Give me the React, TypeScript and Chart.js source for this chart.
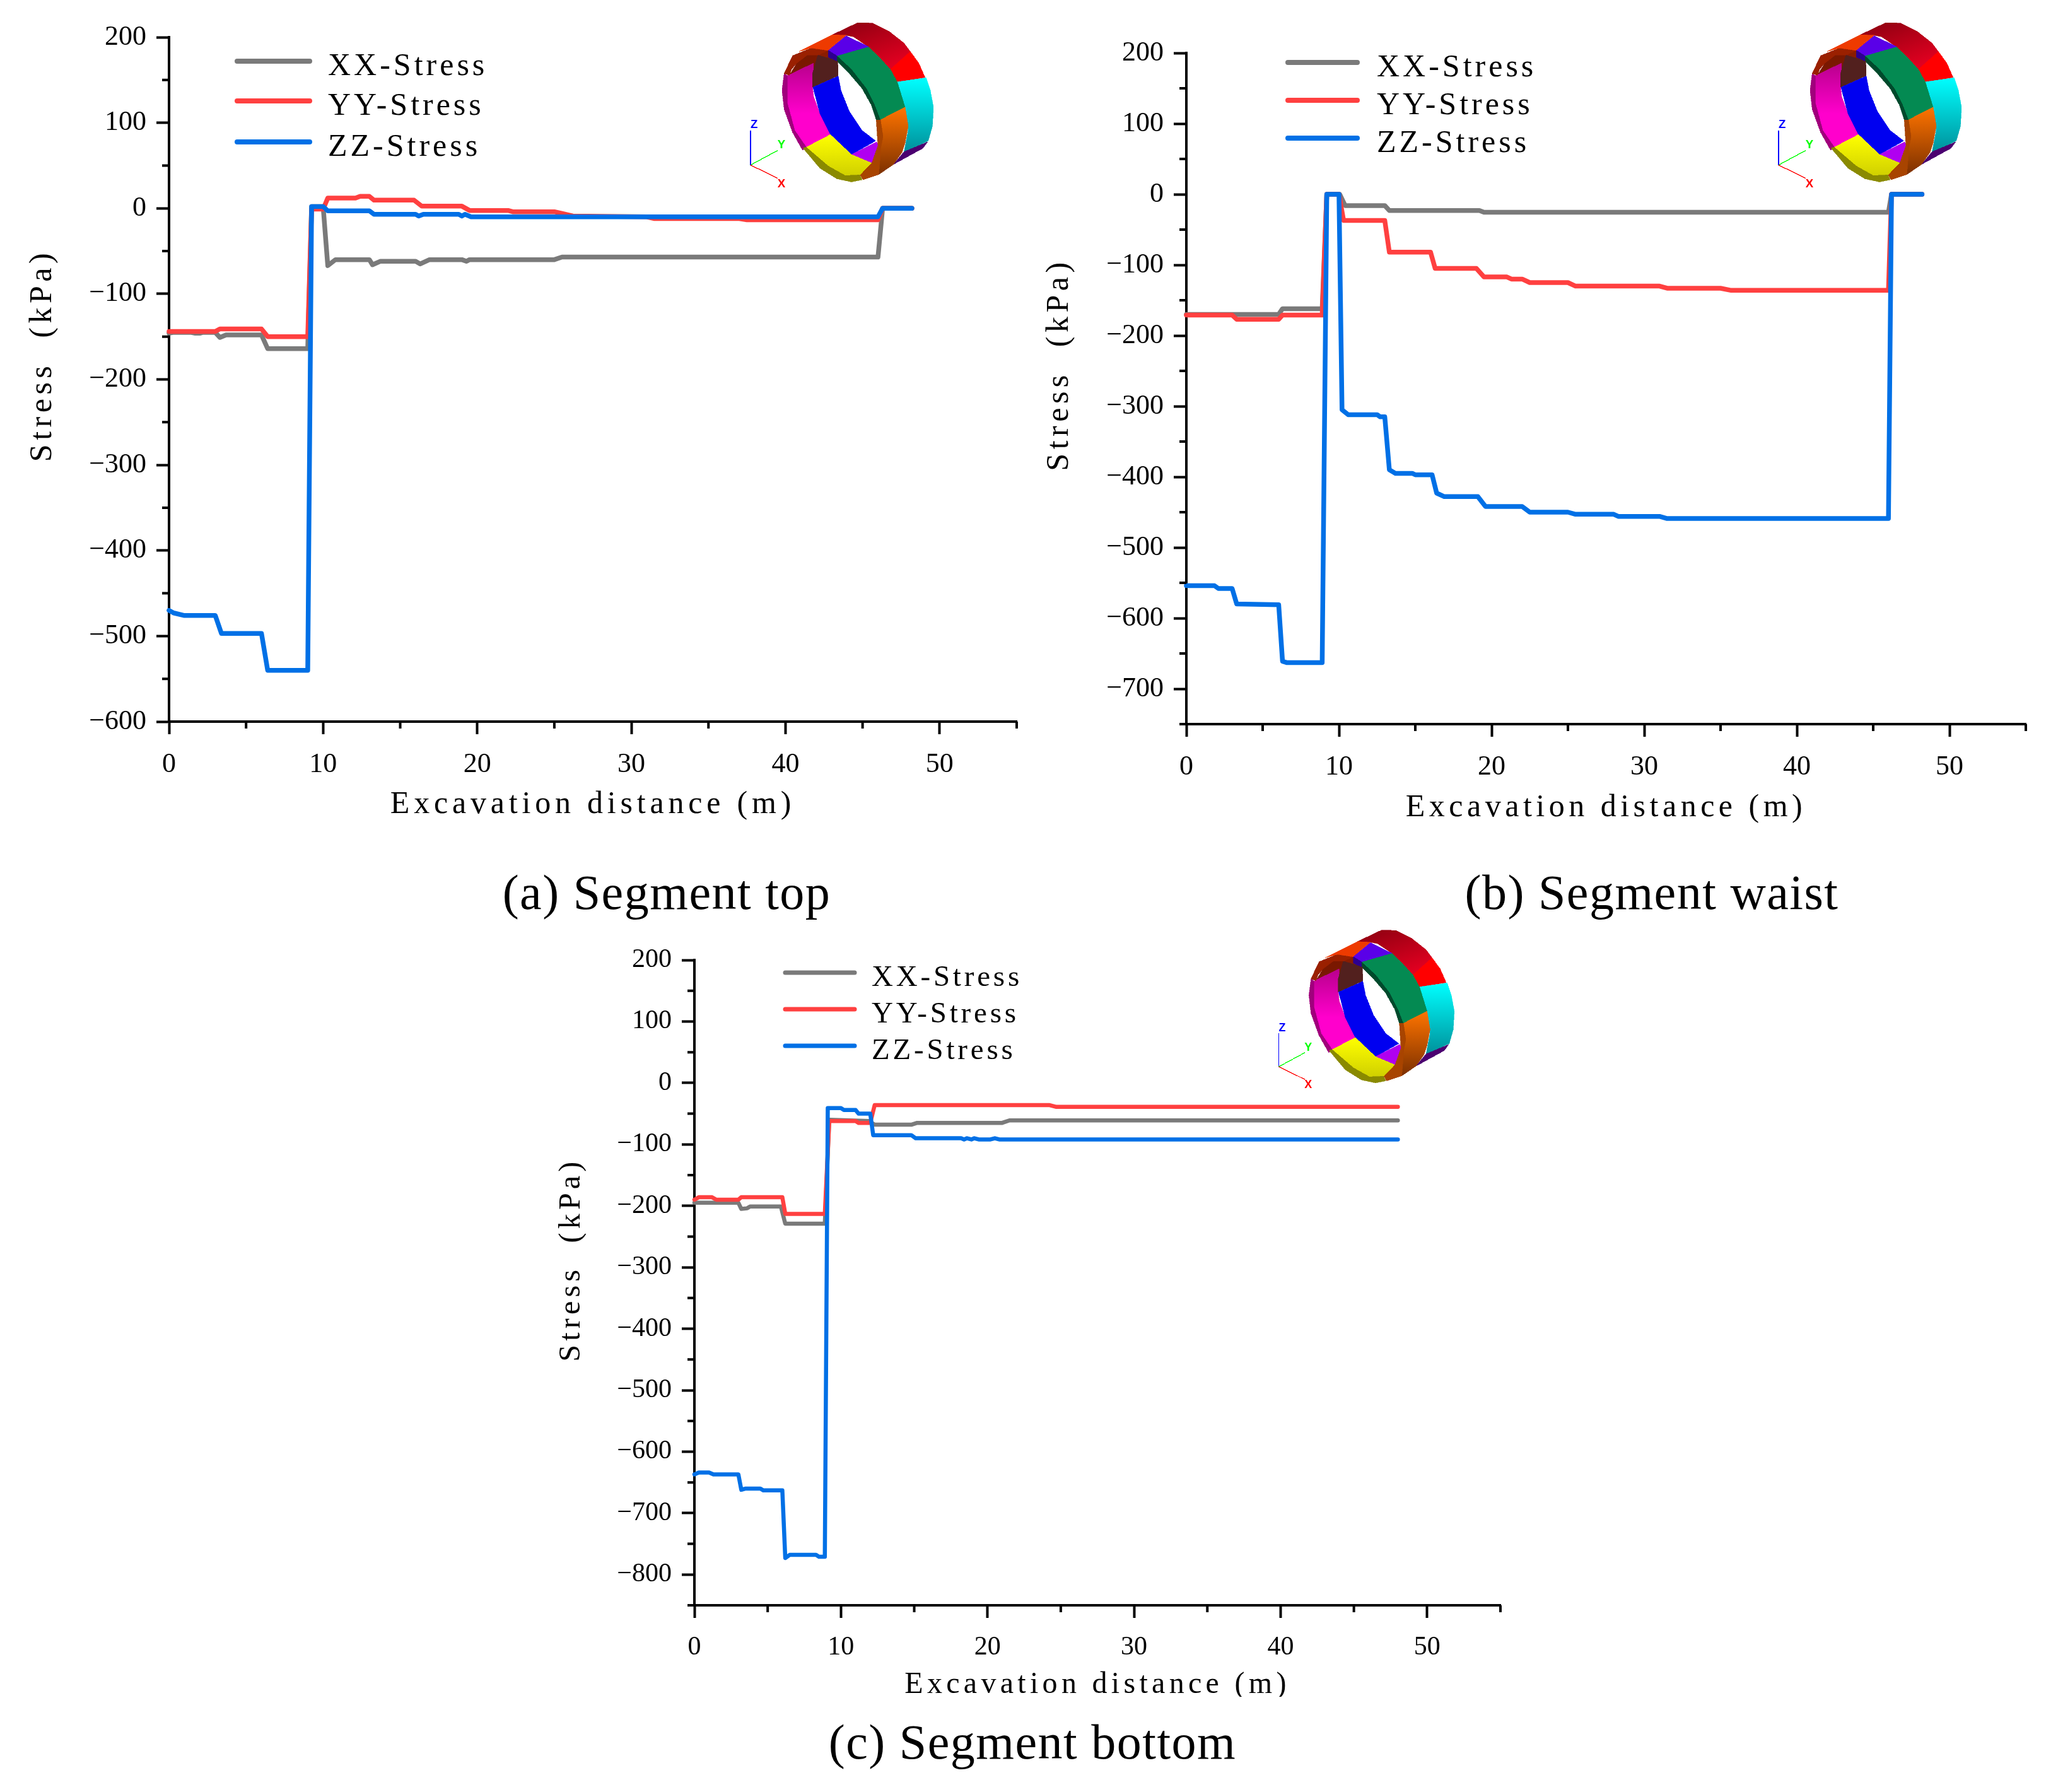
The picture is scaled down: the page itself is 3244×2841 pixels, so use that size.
import React, { useEffect, useRef } from "react";
import { Chart, registerables } from "chart.js";

Chart.register(...registerables);

// ---------- data ----------
const seriesNames = ["XX-Stress", "YY-Stress", "ZZ-Stress"];
const seriesColors = ["#7a7a7a", "#ff4040", "#0070e6"];

const xMajorTicks = [0, 10, 20, 30, 40, 50];
const xMinorTicks = [5, 15, 25, 35, 45, 55];

const topYMajor = [200, 100, 0, -100, -200, -300, -400, -500, -600];
const topYMinor = [150, 50, -50, -150, -250, -350, -450, -550];
const waistYMajor = [200, 100, 0, -100, -200, -300, -400, -500, -600, -700];
const waistYMinor = [150, 50, -50, -150, -250, -350, -450, -550, -650, -750];
const bottomYMajor = [200, 100, 0, -100, -200, -300, -400, -500, -600, -700, -800];
const bottomYMinor = [150, 50, -50, -150, -250, -350, -450, -550, -650, -750, -850];

// (a) Segment top
const topXXx = [0, 0.3, 1.4, 1.7, 2.0, 2.2, 2.5, 3.0, 3.3, 3.7, 6.0, 6.4, 9.0, 9.25, 10.0, 10.3, 10.8, 13.0, 13.2, 13.7, 16.0, 16.3, 16.9, 19.0, 19.3, 19.5, 25.0, 25.5, 46.0, 46.3, 48.2];
const topXXy = [-146, -145, -145, -146, -146, -145, -145, -145, -151, -148, -148, -164, -164, 2, 2, -67, -60, -60, -66, -62, -62, -65, -60, -60, -62, -60, -60, -57, -57, 0, 0];
const topYYx = [0, 0.3, 3.0, 3.3, 6.0, 6.4, 9.0, 9.25, 10.0, 10.3, 12.1, 12.4, 13.0, 13.3, 15.9, 16.4, 19.0, 19.5, 22.0, 22.3, 25.0, 25.5, 26.2, 31.0, 31.5, 37.0, 37.5, 46.0, 46.3, 48.2];
const topYYy = [-144, -144, -144, -141, -141, -150, -150, -1, -1, 12, 12, 14, 14, 9.5, 9.5, 2.5, 2.5, -2.5, -2.5, -4, -4, -6, -9, -10, -12, -12, -13.5, -13.5, 0, 0];
const topZZx = [0, 0.3, 1.0, 3.0, 3.4, 6.0, 6.4, 9.0, 9.25, 10.0, 10.3, 13.0, 13.3, 16.0, 16.2, 16.5, 18.8, 19.0, 19.2, 19.6, 46.0, 46.3, 48.2];
const topZZy = [-470, -473, -476, -476, -497, -497, -540, -540, 2, 2, -3, -3, -7, -7, -9, -7, -7, -9, -7, -10, -10, 0, 0];

// (b) Segment waist
const waistXXx = [0, 6.05, 6.3, 8.9, 9.2, 10.05, 10.4, 13.0, 13.3, 19.2, 19.5, 46.0, 46.2, 48.2];
const waistXXy = [-170, -170, -162, -162, 0, 0, -16, -16, -23, -23, -25.5, -25.5, 0, 0];
const waistYYx = [0, 3.0, 3.3, 6.05, 6.3, 8.9, 9.2, 10.0, 10.3, 13.0, 13.3, 16.0, 16.3, 19.0, 19.5, 21.0, 21.3, 22.0, 22.5, 25.0, 25.5, 31.0, 31.5, 35.0, 35.7, 46.0, 46.2, 48.2];
const waistYYy = [-171, -171, -177, -177, -171, -171, 0, 0, -37, -37, -82, -82, -105, -105, -117, -117, -120, -120, -125, -125, -130, -130, -133, -133, -136, -136, 0, 0];
const waistZZx = [0, 1.84, 2.1, 3.0, 3.3, 6.05, 6.3, 6.6, 8.9, 9.2, 10.0, 10.2, 10.6, 12.5, 12.7, 13.0, 13.3, 13.7, 14.8, 15.0, 16.1, 16.4, 16.9, 19.1, 19.6, 22.0, 22.5, 25.0, 25.5, 28.0, 28.3, 31.0, 31.5, 46.0, 46.2, 48.2];
const waistZZy = [-554, -554, -558, -558, -580, -581, -661, -663, -663, 0, 0, -305, -312, -312, -315, -315, -390, -395, -395, -397, -397, -423, -428, -428, -442, -442, -450, -450, -453, -453, -456, -456, -459, -459, 0, 0];

// (c) Segment bottom
const bottomXXx = [0, 3.0, 3.2, 3.6, 3.8, 5.9, 6.2, 8.9, 9.2, 11.9, 12.3, 14.8, 15.2, 21.0, 21.5, 48.0];
const bottomXXy = [-195, -195, -205, -204, -201, -201, -229, -229, -60, -62, -68, -68, -65, -65, -61, -61];
const bottomYYx = [0, 0.3, 1.2, 1.5, 3.0, 3.2, 6.0, 6.2, 8.9, 9.2, 11.0, 11.2, 12.0, 12.3, 24.2, 24.7, 48.0];
const bottomYYy = [-190, -186, -186, -190, -190, -186, -186, -213, -213, -62, -62, -65, -65, -36, -36, -39, -39];
const bottomZZx = [0, 0.3, 1.0, 1.3, 3.0, 3.2, 3.5, 4.5, 4.7, 6.0, 6.2, 6.5, 8.3, 8.5, 8.9, 9.1, 10.0, 10.2, 11.0, 11.2, 12.0, 12.2, 14.8, 15.1, 18.2, 18.4, 18.6, 18.9, 19.1, 19.4, 20.2, 20.5, 20.8, 48.0];
const bottomZZy = [-637, -634, -634, -637, -637, -662, -660, -660, -663, -663, -773, -768, -768, -771, -771, -41, -41, -44, -44, -50, -50, -85, -85, -90, -90, -92, -90, -92, -90, -92, -92, -90, -92, -92];

// ---------- layout ----------
const FONT = '"Liberation Serif", serif';

type Panel = {
  caption: string;
  captionX: number;
  captionY: number;
  captionSize: number;
  canvas: { x: number; y: number; w: number; h: number };
  plot: { l: number; r: number; t: number; b: number };
  yMin: number;
  yMajor: number[];
  yMinor: number[];
  xs: number[][];
  ys: number[][];
  yTitleX: number;
  xTitleY: number;
  titleSize: number;
  titleSpacing: number;
  xTitleSpacing: number;
  tickSize: number;
  lineWidth: number;
  legend: { x0: number; x1: number; tx: number; ys: number[]; size: number; spacing: number; width: number };
  ring: { x: number; y: number; k: number };
};

const panels: Panel[] = [
  {
    caption: "(a) Segment top", captionX: 1057, captionY: 1415, captionSize: 78,
    canvas: { x: 0, y: 0, w: 1700, h: 1320 },
    plot: { l: 268, r: 1612, t: 59, b: 1144 },
    yMin: -600, yMajor: topYMajor, yMinor: topYMinor,
    xs: [topXXx, topYYx, topZZx], ys: [topXXy, topYYy, topZZy],
    yTitleX: 68, xTitleY: 1276, titleSize: 50, titleSpacing: 6.5, xTitleSpacing: 6.8, tickSize: 44, lineWidth: 7.5,
    legend: { x0: 376, x1: 491, tx: 520, ys: [97, 160, 225], size: 50, spacing: 5, width: 8 },
    ring: { x: 1100, y: 0, k: 1 },
  },
  {
    caption: "(b) Segment waist", captionX: 2619, captionY: 1415, captionSize: 78,
    canvas: { x: 1640, y: 0, w: 1604, h: 1330 },
    plot: { l: 1881, r: 3212, t: 84, b: 1148 },
    yMin: -750, yMajor: waistYMajor, yMinor: waistYMinor,
    xs: [waistXXx, waistYYx, waistZZx], ys: [waistXXy, waistYYy, waistZZy],
    yTitleX: 1680, xTitleY: 1281, titleSize: 50, titleSpacing: 6.5, xTitleSpacing: 6.5, tickSize: 44, lineWidth: 7.5,
    legend: { x0: 2042, x1: 2152, tx: 2183, ys: [99, 159, 219], size: 50, spacing: 5, width: 8 },
    ring: { x: 2730, y: 0, k: 1 },
  },
  {
    caption: "(c) Segment bottom", captionX: 1637, captionY: 2762, captionSize: 78,
    canvas: { x: 860, y: 1480, w: 1600, h: 1210 },
    plot: { l: 1101, r: 2379, t: 1522, b: 2545 },
    yMin: -850, yMajor: bottomYMajor, yMinor: bottomYMinor,
    xs: [bottomXXx, bottomYYx, bottomZZx], ys: [bottomXXy, bottomYYy, bottomZZy],
    yTitleX: 906, xTitleY: 2671, titleSize: 48, titleSpacing: 6.2, xTitleSpacing: 6.3, tickSize: 42, lineWidth: 6.5,
    legend: { x0: 1245, x1: 1355, tx: 1382, ys: [1542, 1600, 1658], size: 47, spacing: 4.8, width: 7 },
    ring: { x: 1941, y: 1440, k: 0.96 },
  },
];

function label(v: number) {
  return String(v).replace("-", "\u2212");
}

function PanelChart({ p }: { p: Panel }) {
  const ref = useRef<HTMLCanvasElement | null>(null);
  useEffect(() => {
    const { canvas: c, plot, legend } = p;
    const panelPlugin = {
      id: "panelDecor",
      afterLayout(chart: any) {
        for (const id of ["x", "y"]) {
          const s = chart.scales[id];
          const orig = s.drawTitle;
          const sp = id === "x" ? p.xTitleSpacing : p.titleSpacing;
          s.drawTitle = function () {
            const g = chart.ctx;
            g.letterSpacing = sp + "px";
            orig.call(this);
            g.letterSpacing = "0px";
          };
        }
      },
      afterDatasetsDraw(chart: any) {
        const g = chart.ctx;
        const sx = chart.scales.x;
        const sy = chart.scales.y;
        g.save();
        g.strokeStyle = "#000";
        g.lineWidth = 4;
        g.lineCap = "butt";
        g.beginPath();
        for (const v of xMinorTicks) {
          const px = sx.getPixelForValue(v);
          g.moveTo(px, sy.bottom);
          g.lineTo(px, sy.bottom + 11);
        }
        for (const v of p.yMinor) {
          const py = sy.getPixelForValue(v);
          g.moveTo(sx.left, py);
          g.lineTo(sx.left - 11, py);
        }
        g.stroke();
        // legend
        chart.data.datasets.forEach((d: any, i: number) => {
          const y = legend.ys[i] - c.y;
          g.strokeStyle = d.borderColor;
          g.lineWidth = legend.width;
          g.lineCap = "round";
          g.beginPath();
          g.moveTo(legend.x0 - c.x, y);
          g.lineTo(legend.x1 - c.x, y);
          g.stroke();
          g.fillStyle = "#000";
          g.font = `${legend.size}px ${FONT}`;
          g.letterSpacing = legend.spacing + "px";
          g.textBaseline = "middle";
          g.textAlign = "left";
          g.fillText(d.label, legend.tx - c.x, y + 9);
          g.letterSpacing = "0px";
        });
        g.restore();
      },
    };
    const chart = new Chart(ref.current as HTMLCanvasElement, {
      type: "line",
      data: {
        datasets: seriesNames.map((name, i) => ({
          label: name,
          data: p.xs[i].map((x, k) => ({ x, y: p.ys[i][k] })),
          borderColor: seriesColors[i],
          borderWidth: p.lineWidth,
          pointRadius: 0,
          tension: 0,
          fill: false,
          borderJoinStyle: "round",
          borderCapStyle: "round",
          order: 3 - i,
          clip: false,
        })),
      },
      options: {
        animation: false,
        responsive: false,
        devicePixelRatio: 1,
        layout: { padding: { top: plot.t - c.y, right: c.x + c.w - plot.r, left: 0, bottom: 0 } },
        plugins: { legend: { display: false }, title: { display: false }, tooltip: { enabled: false } },
        scales: {
          x: {
            type: "linear",
            min: 0,
            max: 55,
            afterBuildTicks: (s: any) => { s.ticks = xMajorTicks.map((value) => ({ value })); },
            afterFit: (s: any) => { s.height = c.y + c.h - plot.b; },
            border: { display: true, color: "#000", width: 4 },
            grid: { drawOnChartArea: false, drawTicks: true, tickLength: 20, tickWidth: 4, tickColor: "#000" },
            ticks: {
              autoSkip: false, maxRotation: 0, minRotation: 0, padding: 22, color: "#000",
              font: { family: FONT, size: p.tickSize },
              callback: (v: any) => label(v),
            },
            title: {
              display: true,
              text: "Excavation distance (m)",
              color: "#000",
              font: { family: FONT, size: p.titleSize, lineHeight: 1 },
              padding: { top: 0, bottom: c.y + c.h - p.xTitleY - p.titleSize / 2 },
            },
          },
          y: {
            type: "linear",
            min: p.yMin,
            max: 200,
            afterBuildTicks: (s: any) => { s.ticks = p.yMajor.map((value) => ({ value })); },
            afterFit: (s: any) => { s.width = plot.l - c.x; },
            border: { display: true, color: "#000", width: 4 },
            grid: { drawOnChartArea: false, drawTicks: true, tickLength: 20, tickWidth: 4, tickColor: "#000" },
            ticks: {
              autoSkip: false, padding: 16, color: "#000",
              font: { family: FONT, size: p.tickSize },
              callback: (v: any) => label(v),
            },
            title: {
              display: true,
              text: "    Stress  (kPa)",
              color: "#000",
              font: { family: FONT, size: p.titleSize, lineHeight: 1 },
              padding: { top: p.yTitleX - c.x - p.titleSize / 2, bottom: 0 },
            },
          },
        },
      },
      plugins: [panelPlugin],
    } as any);
    return () => chart.destroy();
  }, [p]);
  return (
    <canvas
      ref={ref}
      width={p.canvas.w}
      height={p.canvas.h}
      style={{ position: "absolute", left: p.canvas.x, top: p.canvas.y, width: p.canvas.w, height: p.canvas.h }}
    />
  );
}

// Decorative 3D ring inset, in a 1500x990 drawing space (500x330 on the page)
const ringParts: [string, string][] = [
  ["url(#rgDarkRed)", "660,165 780,108 850,110 930,150 1000,205 1030,245 935,330 880,270 830,222 760,175 725,168"],
  ["#ff0000", "1030,245 1070,300 1100,368 968,390 935,330"],
  ["url(#rgCyan)", "965,390 1105,370 1125,430 1140,510 1135,600 1115,670 1000,725 1020,620 1005,510"],
  ["#4b0070", "1112,675 1090,705 950,782 1000,722"],
  ["#048a52", "680,265 830,222 880,270 935,330 968,390 1005,510 887,570 860,500 820,420 750,330"],
  ["#004a2c", "680,265 750,330 820,420 860,500 887,570 868,570 845,500 800,420 740,350 680,290"],
  ["url(#rgOrange)", "887,570 1005,510 1020,600 1005,680 990,725 950,782 880,830 890,700 900,650"],
  ["#a84400", "868,570 888,570 900,650 890,700 880,830 805,855 790,830 845,775 875,680"],
  ["#7a1800", "455,358 490,300 540,262 590,262 565,350 570,300"],
  ["#8a1c00", "590,262 640,240 640,272 685,290"],
  ["url(#rgMagenta)", "445,360 570,300 565,415 570,460 600,540 650,640 535,700 480,620 445,490"],
  ["#a0007c", "430,350 445,360 445,490 480,620 535,700 518,715 470,630 430,520 420,430"],
  ["#52201e", "590,262 685,290 687,360 565,415 565,350"],
  ["#0000f0", "567,415 687,362 700,430 740,530 800,620 865,670 750,735 650,640 600,540"],
  ["#b000f0", "750,735 870,675 875,690 845,775"],
  ["url(#rgYellow)", "535,700 650,640 750,735 845,775 790,832 720,835 640,790"],
  ["#8a8a00", "520,705 535,700 640,790 720,835 790,832 800,855 750,865 680,850 600,800"],
  ["#9a2000", "430,350 470,265 560,228 640,240 590,262 540,262 490,300 465,330 455,358"],
  ["#ee3a00", "500,245 660,165 725,168 640,240 560,228"],
  ["#5a00e8", "640,240 725,170 830,222 680,265"],
  ["#2c0090", "640,240 680,265 680,290 640,272"],
];

function Ring({ x, y, k, id }: { x: number; y: number; k: number; id: string }) {
  const u = (s: string) => s.replace("url(#", `url(#${id}`);
  return (
    <svg
      viewBox="0 0 1500 990"
      width={500 * k}
      height={330 * k}
      shapeRendering="crispEdges"
      style={{ position: "absolute", left: x, top: y }}
    >
      <defs>
        <linearGradient id={id + "rgDarkRed"} x1="0" y1="0" x2="0.6" y2="1">
          <stop offset="0" stopColor="#8a0010" />
          <stop offset="1" stopColor="#e00020" />
        </linearGradient>
        <linearGradient id={id + "rgCyan"} x1="0" y1="0" x2="0" y2="1">
          <stop offset="0" stopColor="#00ffff" />
          <stop offset="1" stopColor="#00909a" />
        </linearGradient>
        <linearGradient id={id + "rgOrange"} x1="0" y1="0" x2="0" y2="1">
          <stop offset="0" stopColor="#ff7400" />
          <stop offset="1" stopColor="#7c3000" />
        </linearGradient>
        <linearGradient id={id + "rgMagenta"} x1="0" y1="0" x2="0" y2="1">
          <stop offset="0" stopColor="#b8008c" />
          <stop offset="0.6" stopColor="#ff00cc" />
          <stop offset="1" stopColor="#ff00cc" />
        </linearGradient>
        <linearGradient id={id + "rgYellow"} x1="0" y1="0" x2="0" y2="1">
          <stop offset="0" stopColor="#ffff00" />
          <stop offset="1" stopColor="#d0d000" />
        </linearGradient>
      </defs>
      {ringParts.map(([fill, pts], i) => (
        <polygon key={i} points={pts} fill={u(fill)} stroke={u(fill)} strokeWidth={2} />
      ))}
      <line x1={270} y1={785} x2={270} y2={620} stroke="#0000ff" strokeWidth={4} />
      <line x1={270} y1={785} x2={400} y2={715} stroke="#00ff00" strokeWidth={4} />
      <line x1={270} y1={785} x2={400} y2={848} stroke="#ff0000" strokeWidth={4} />
      <g fontFamily='"Liberation Sans", sans-serif' fontWeight="bold" fontSize={56}>
        <text x={270} y={608} fill="#0000ff">Z</text>
        <text x={398} y={705} fill="#00ff00">Y</text>
        <text x={398} y={892} fill="#ff0000">X</text>
      </g>
    </svg>
  );
}

export default function App() {
  useEffect(() => {
    document.body.style.margin = "0";
  }, []);
  return (
    <div style={{ position: "relative", width: 3244, height: 2841, background: "#fff", overflow: "hidden" }}>
      {panels.map((p, i) => (
        <React.Fragment key={i}>
          <PanelChart p={p} />
          <Ring x={p.ring.x} y={p.ring.y} k={p.ring.k} id={"p" + i} />
          <div
            style={{
              position: "absolute",
              left: p.captionX,
              top: p.captionY,
              transform: "translate(-50%, -50%)",
              fontFamily: FONT,
              fontSize: p.captionSize,
              letterSpacing: 1.5,
              whiteSpace: "nowrap",
              color: "#000",
            }}
          >
            {p.caption}
          </div>
        </React.Fragment>
      ))}
    </div>
  );
}
